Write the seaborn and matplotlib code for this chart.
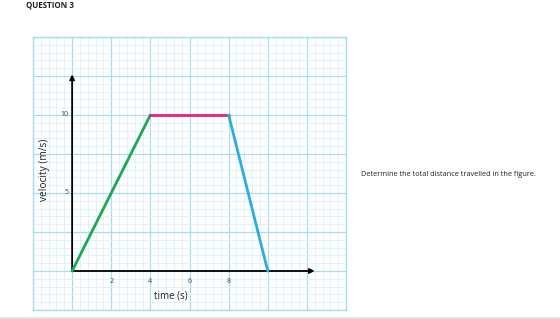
import matplotlib
matplotlib.use("Agg")
import matplotlib.pyplot as plt
import seaborn as sns
import pandas as pd
import numpy as np
from matplotlib.ticker import MultipleLocator
from matplotlib.lines import Line2D

sns.set_style("white")
plt.rcParams['font.family'] = ['Open Sans', 'DejaVu Sans']

# Data
time_pts = [0, 4, 8, 10]
velocity_pts = [0, 10, 10, 0]
segment_names = ["accelerate", "constant", "decelerate"]
segment_colors = ["#19a94f", "#ec1e83", "#2cabe0"]
x_tick_labels = ["2", "4", "6", "8"]
x_tick_vals = [2, 4, 6, 8]
y_tick_labels = ["5", "10"]
y_tick_vals = [5, 10]

rows = []
for i, name in enumerate(segment_names):
    for j in (i, i + 1):
        rows.append({"time": time_pts[j], "velocity": velocity_pts[j], "segment": name})
df = pd.DataFrame(rows)

fig = plt.figure(figsize=(5.6, 3.19), dpi=100)
ax = fig.add_axes([33/560, 9/319, 313/560, 273/319])

ax.set_xlim(-2, 14)
ax.set_ylim(-2.5, 15)
ax.xaxis.set_major_locator(MultipleLocator(2))
ax.xaxis.set_minor_locator(MultipleLocator(0.4))
ax.yaxis.set_major_locator(MultipleLocator(2.5))
ax.yaxis.set_minor_locator(MultipleLocator(0.5))
ax.grid(which="minor", color="#dcf1fa", lw=0.6)
ax.grid(which="major", color="#a9dcf0", lw=0.9)
ax.set_axisbelow(True)
ax.tick_params(which="both", length=0, labelbottom=False, labelleft=False)
for s in ax.spines.values():
    s.set_color("#a9dcf0")
    s.set_linewidth(1.0)

# axes arrows
ax.annotate("", xy=(0, 12.6), xytext=(0, 0),
            arrowprops=dict(arrowstyle="-|>", color="black", lw=1.3,
                            mutation_scale=7, shrinkA=0, shrinkB=0))
ax.annotate("", xy=(12.4, 0), xytext=(0, 0),
            arrowprops=dict(arrowstyle="-|>", color="black", lw=1.3,
                            mutation_scale=7, shrinkA=0, shrinkB=0))

sns.lineplot(data=df, x="time", y="velocity", hue="segment",
             palette=dict(zip(segment_names, segment_colors)),
             estimator=None, sort=False, lw=2.0, legend=False, ax=ax, zorder=5)
ax.set_xlabel("")
ax.set_ylabel("")

for v, lab in zip(x_tick_vals, x_tick_labels):
    ax.text(v, -0.65, lab, ha="center", va="center", fontsize=5, color="#444444")
for v, lab in zip(y_tick_vals, y_tick_labels):
    ax.text(-0.2, v, lab, ha="right", va="center", fontsize=5, color="#444444")

ax.text(5.05, -1.6, "time (s)", ha="center", va="center", fontsize=7, color="#222222")
ax.text(-1.4, 6.5, "velocity (m/s)", ha="center", va="center", rotation=90,
        fontsize=7.3, color="#222222")

fig.text(26/560, 1 - 5/319, "QUESTION 3", ha="left", va="center",
         fontsize=5.8, fontweight="bold", color="#222222")
fig.text(361/560, 1 - 174/319, "Determine the total distance travelled in the figure.",
         ha="left", va="center", fontsize=5.3, color="#222222")

fig.add_artist(Line2D([0, 1], [1.2/319, 1.2/319], transform=fig.transFigure,
                      color="#e2e2e2", lw=2))

fig.savefig("out.png", dpi=100)
